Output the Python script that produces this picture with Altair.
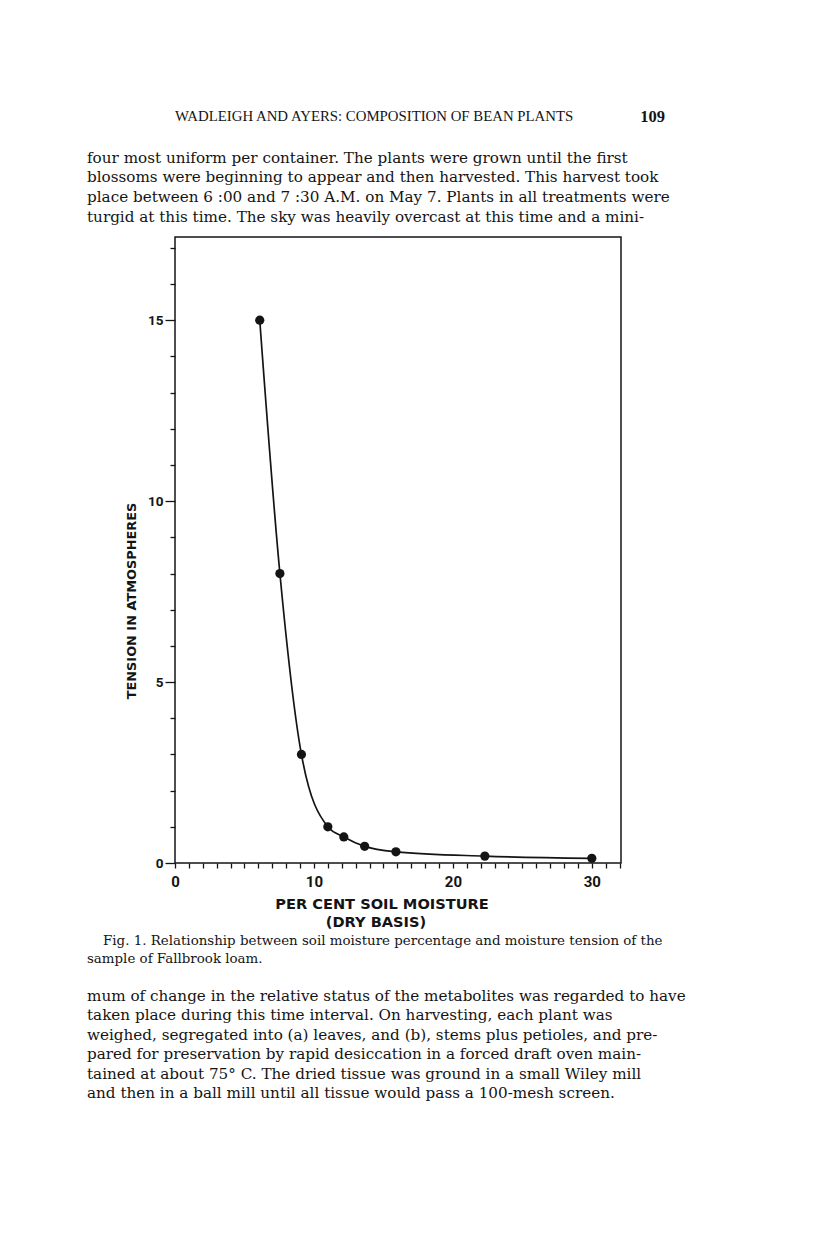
import altair as alt
import pandas as pd

# ---------------- data ----------------
moisture_pct = [6.1, 7.55, 9.1, 11.0, 12.15, 13.65, 15.9, 22.3, 30.0]
tension_atm = [15.0, 8.0, 3.0, 1.0, 0.72, 0.46, 0.31, 0.19, 0.13]

x_tick_values = list(range(0, 33))
y_tick_values = list(range(0, 18))

header_text = "WADLEIGH AND AYERS: COMPOSITION OF BEAN PLANTS"
page_number = "109"
para_top = [
    "four most uniform per container.  The plants were grown until the first",
    "blossoms were beginning to appear and then harvested.  This harvest took",
    "place between 6 :00 and 7 :30 A.M. on May 7.  Plants in all treatments were",
    "turgid at this time.  The sky was heavily overcast at this time and a mini-",
]
caption_lines = [
    "Fig. 1.  Relationship between soil moisture percentage and moisture tension of the",
    "sample of Fallbrook loam.",
]
para_bottom = [
    "mum of change in the relative status of the metabolites was regarded to have",
    "taken place during this time interval.  On harvesting, each plant was",
    "weighed, segregated into (a) leaves, and (b), stems plus petioles, and pre-",
    "pared for preservation by rapid desiccation in a forced draft oven main-",
    "tained at about 75° C.  The dried tissue was ground in a small Wiley mill",
    "and then in a ball mill until all tissue would pass a 100-mesh screen.",
]
x_title_lines = ["PER CENT SOIL MOISTURE", "(DRY BASIS)"]
y_title_text = "TENSION IN ATMOSPHERES"

df = pd.DataFrame({"moisture": moisture_pct, "tension": tension_atm})

# ---------------- layout (page pixels) ----------------
INK = "#141414"
PLOT_LEFT, PLOT_TOP = 175, 237
W, H = 446, 626
SERIF = "DejaVu Serif"
CAPS_SERIF = "Liberation Serif"
SANS = "Roboto"
TITLE_SANS = "DejaVu Sans"


def text_layer(s, px, py, size, font=SERIF, weight="normal", align="left",
               baseline="alphabetic", angle=0):
    return alt.Chart(pd.DataFrame({"t": [s]})).mark_text(
        align=align, baseline=baseline, font=font, fontSize=size,
        fontWeight=weight, angle=angle, color=INK
    ).encode(text="t:N", x=alt.value(px - PLOT_LEFT), y=alt.value(py - PLOT_TOP))


x_scale = alt.Scale(domain=[0, 32.1], nice=False, zero=False)
y_scale = alt.Scale(domain=[0, 17.3], nice=False, zero=False)

x_axis = alt.Axis(
    values=x_tick_values, tickSize=5, tickWidth=1.3, tickColor=INK,
    domain=False, grid=False, title=None,
    labelExpr="datum.value % 10 === 0 ? datum.label : ''",
    labelFont=SANS, labelFontSize=15, labelFontWeight="bold", labelColor=INK,
    labelPadding=6, labelFlush=False, labelOverlap=False,
)
y_axis = alt.Axis(
    values=y_tick_values,
    tickSize={"condition": {"test": "datum.value % 5 === 0", "value": 10}, "value": 5},
    tickWidth=1.3, tickColor=INK, domain=False, grid=False, title=None,
    labelExpr="datum.value % 5 === 0 ? datum.label : ''",
    labelFont=SANS, labelFontSize=13.5, labelFontWeight="bold", labelColor=INK,
    labelPadding=2, labelBaseline="middle", labelOverlap=False, labelFlush=False,
)

x_enc = alt.X("moisture:Q", scale=x_scale, axis=x_axis)
y_enc = alt.Y("tension:Q", scale=y_scale, axis=y_axis)

base = alt.Chart(df)
curve = base.mark_line(interpolate="monotone", color=INK, strokeWidth=1.7).encode(
    x=x_enc, y=y_enc)
dots = base.mark_circle(size=85, color=INK, opacity=1).encode(x=x_enc, y=y_enc)

layers = [curve, dots]

# page header
layers.append(text_layer(header_text, 175, 120.7, 14.8, font=CAPS_SERIF))
layers.append(text_layer(page_number, 665, 122, 16.5, font=CAPS_SERIF,
                         weight="bold", align="right"))

# top paragraph
for i, line in enumerate(para_top):
    layers.append(text_layer(line, 87, 162.5 + 19.9 * i, 15.2))

# axis titles
layers.append(text_layer(y_title_text, 132, 601, 12.9, font=TITLE_SANS, weight="bold",
                         align="center", baseline="middle", angle=270))
layers.append(text_layer(x_title_lines[0], 382, 905, 14.6, font=TITLE_SANS, weight="bold",
                         align="center", baseline="middle"))
layers.append(text_layer(x_title_lines[1], 376, 922.5, 14.6, font=TITLE_SANS, weight="bold",
                         align="center", baseline="middle"))

# caption
layers.append(text_layer(caption_lines[0], 103, 945, 13.4))
layers.append(text_layer(caption_lines[1], 87, 963, 13.4))

# bottom paragraph
for i, line in enumerate(para_bottom):
    layers.append(text_layer(line, 87, 1001 + 19.4 * i, 15.2))

chart = alt.layer(*layers).properties(
    width=W, height=H,
    padding={"left": PLOT_LEFT - 8, "top": PLOT_TOP - 8,
             "right": 800 - (PLOT_LEFT - 8) - W, "bottom": 1200 - (PLOT_TOP - 8) - H},
    autosize=alt.AutoSizeParams(type="none"),
    background="white",
).configure_view(stroke=INK, strokeWidth=1.5)

chart.save("out.html", embed_options={"renderer": "svg", "actions": False})
